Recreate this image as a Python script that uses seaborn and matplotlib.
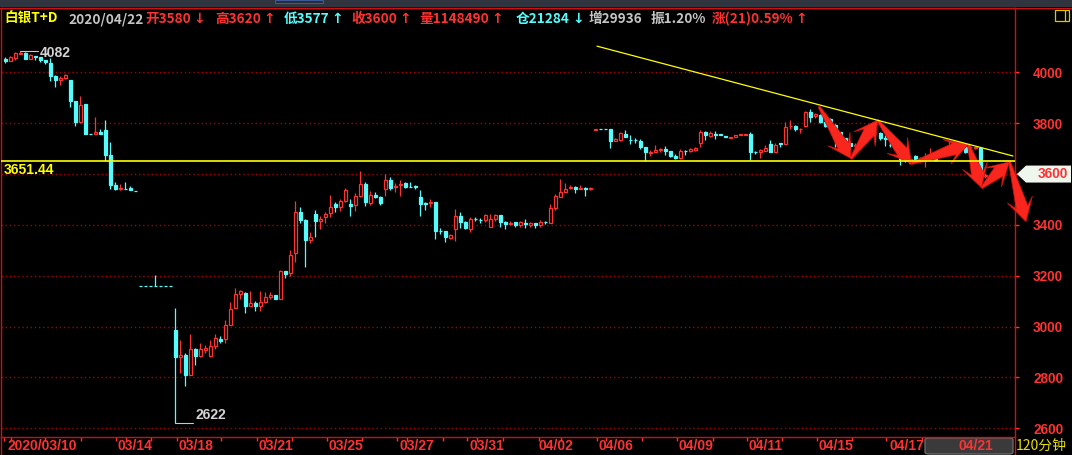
import numpy as np
import matplotlib
matplotlib.use("Agg")
import matplotlib.pyplot as plt
import seaborn as sns
from matplotlib.patches import Polygon, Rectangle, FancyBboxPatch
from matplotlib.lines import Line2D
from matplotlib.transforms import IdentityTransform, blended_transform_factory

# ==========================================
# ДАННЫЕ (свечи 120 минут, серебро T+D)
# ==========================================
opens = [
    4053, 4046, 4056, 4074, 4077, 4053, 4064, 4061, 4048, 4038,
    3985, 3971, 3976, 3970, 3887, 3806, 3875, 3758, 3758, 3766,
    3773, 3675, 3557, 3540, 3542, 3545, 3533, 3159, 3159, 3159,
    3159, 3159, 3159, 3159, 2987, 2882, 2888, 2810, 2912, 2884,
    2908, 2884, 2925, 2951, 2950, 3008, 3072, 3129, 3131, 3082,
    3093, 3082, 3097, 3115, 3124, 3110, 3219, 3209, 3288, 3449,
    3419, 3341, 3443, 3417, 3430, 3445, 3481, 3472, 3494, 3481,
    3478, 3514, 3561, 3485, 3518, 3511, 3541, 3577, 3548, 3558,
    3563, 3550, 3553, 3508, 3487, 3485, 3489, 3376, 3376, 3350,
    3384, 3435, 3411, 3384, 3424, 3421, 3419, 3393, 3423, 3439,
    3413, 3402, 3411, 3398, 3407, 3398, 3409, 3400, 3413, 3409,
    3465, 3511, 3531, 3545, 3550, 3542, 3545, 3542, 3775, 3777,
    3777, 3776, 3731, 3734, 3759, 3735, 3734, 3731, 3706, 3681,
    3688, 3696, 3697, 3690, 3671, 3664, 3691, 3692, 3694, 3721,
    3765, 3749, 3756, 3756, 3751, 3743, 3747, 3755, 3755, 3757,
    3687, 3685, 3692, 3718, 3688, 3721, 3717, 3788, 3790, 3776,
    3788, 3845, 3828, 3832, 3806, 3815, 3793, 3764, 3740, 3723,
    3712, 3714, 3727, 3753, 3797, 3760, 3742, 3716, 3712, 3675,
    3662, 3642, 3671, 3655, 3660, 3672, 3675, 3671, 3677, 3714,
    3714, 3715, 3708, 3706, 3703, 3703, 3592, 3580, 3588, 3598,
]
highs = [
    4061, 4064, 4079, 4082, 4080, 4074, 4065, 4061, 4048, 4056,
    3988, 3985, 3992, 3970, 3887, 3907, 3875, 3758, 3823, 3776,
    3812, 3726, 3567, 3559, 3567, 3553, 3533, 3159, 3159, 3159,
    3203, 3159, 3159, 3159, 3073, 2947, 2895, 2973, 2915, 2934,
    2926, 2947, 2971, 2963, 3026, 3097, 3150, 3144, 3136, 3140,
    3101, 3140, 3136, 3136, 3124, 3223, 3219, 3301, 3494, 3469,
    3422, 3371, 3459, 3435, 3451, 3518, 3489, 3501, 3544, 3500,
    3524, 3612, 3570, 3533, 3528, 3514, 3599, 3587, 3563, 3577,
    3567, 3567, 3557, 3537, 3491, 3500, 3491, 3386, 3376, 3364,
    3462, 3451, 3417, 3432, 3432, 3427, 3443, 3443, 3443, 3439,
    3417, 3415, 3411, 3415, 3423, 3411, 3409, 3419, 3417, 3482,
    3523, 3580, 3566, 3557, 3553, 3557, 3550, 3550, 3776, 3777,
    3777, 3776, 3743, 3765, 3773, 3754, 3743, 3738, 3706, 3694,
    3714, 3703, 3710, 3690, 3677, 3697, 3694, 3702, 3706, 3773,
    3769, 3769, 3769, 3756, 3751, 3744, 3755, 3756, 3756, 3764,
    3692, 3698, 3714, 3734, 3723, 3724, 3805, 3813, 3794, 3782,
    3848, 3856, 3841, 3838, 3810, 3819, 3795, 3766, 3743, 3727,
    3721, 3734, 3745, 3778, 3806, 3766, 3753, 3727, 3716, 3688,
    3667, 3660, 3673, 3668, 3681, 3701, 3677, 3684, 3690, 3730,
    3727, 3718, 3712, 3714, 3712, 3705, 3605, 3595, 3608, 3620,
]
lows = [
    4038, 4043, 4048, 4072, 4052, 4051, 4048, 4040, 4032, 3967,
    3941, 3950, 3972, 3862, 3790, 3799, 3758, 3757, 3758, 3758,
    3652, 3540, 3537, 3537, 3540, 3536, 3532, 3158, 3158, 3158,
    3158, 3158, 3158, 3158, 2622, 2816, 2768, 2810, 2849, 2882,
    2897, 2882, 2914, 2937, 2937, 3008, 3072, 3107, 3055, 3082,
    3063, 3063, 3094, 3108, 3107, 3110, 3192, 3200, 3255, 3406,
    3236, 3327, 3354, 3382, 3409, 3432, 3452, 3455, 3491, 3436,
    3455, 3511, 3476, 3478, 3504, 3478, 3515, 3537, 3531, 3515,
    3544, 3548, 3541, 3436, 3459, 3472, 3345, 3364, 3334, 3345,
    3338, 3389, 3384, 3373, 3417, 3409, 3413, 3393, 3417, 3393,
    3384, 3398, 3393, 3393, 3389, 3393, 3389, 3390, 3404, 3409,
    3459, 3511, 3528, 3540, 3527, 3540, 3515, 3537, 3775, 3776,
    3776, 3704, 3731, 3730, 3747, 3719, 3722, 3698, 3650, 3672,
    3687, 3687, 3676, 3668, 3658, 3660, 3676, 3688, 3692, 3708,
    3734, 3747, 3739, 3752, 3747, 3743, 3747, 3755, 3755, 3655,
    3679, 3664, 3692, 3688, 3688, 3708, 3717, 3777, 3770, 3763,
    3787, 3806, 3819, 3800, 3785, 3793, 3707, 3730, 3701, 3694,
    3701, 3710, 3722, 3748, 3727, 3734, 3711, 3707, 3694, 3635,
    3648, 3640, 3655, 3652, 3629, 3655, 3652, 3668, 3675, 3710,
    3712, 3700, 3684, 3700, 3700, 3590, 3586, 3577, 3585, 3590,
]
closes = [
    4043, 4059, 4077, 4078, 4053, 4068, 4061, 4048, 4040, 3985,
    3970, 3979, 3988, 3888, 3806, 3870, 3758, 3757, 3764, 3758,
    3675, 3557, 3540, 3546, 3541, 3536, 3532, 3158, 3158, 3158,
    3158, 3158, 3158, 3158, 2882, 2888, 2810, 2911, 2884, 2912,
    2917, 2924, 2955, 2943, 3005, 3068, 3127, 3140, 3082, 3093,
    3082, 3095, 3116, 3124, 3107, 3219, 3208, 3281, 3449, 3419,
    3341, 3351, 3417, 3424, 3443, 3472, 3472, 3494, 3537, 3476,
    3514, 3561, 3491, 3518, 3508, 3485, 3577, 3544, 3553, 3561,
    3550, 3548, 3548, 3482, 3483, 3491, 3376, 3375, 3354, 3360,
    3435, 3411, 3389, 3423, 3422, 3418, 3439, 3423, 3439, 3413,
    3402, 3409, 3401, 3411, 3405, 3409, 3401, 3413, 3410, 3465,
    3514, 3528, 3541, 3548, 3541, 3545, 3542, 3545, 3776, 3776,
    3776, 3731, 3738, 3760, 3747, 3733, 3732, 3708, 3687, 3688,
    3694, 3698, 3692, 3672, 3662, 3691, 3689, 3699, 3703, 3765,
    3755, 3760, 3755, 3752, 3747, 3744, 3755, 3756, 3756, 3688,
    3686, 3694, 3704, 3688, 3714, 3720, 3784, 3790, 3776, 3778,
    3845, 3823, 3835, 3806, 3790, 3799, 3764, 3740, 3721, 3710,
    3716, 3727, 3740, 3769, 3795, 3740, 3738, 3714, 3700, 3659,
    3655, 3658, 3659, 3664, 3662, 3675, 3655, 3681, 3688, 3727,
    3723, 3704, 3688, 3708, 3705, 3600, 3598, 3588, 3602, 3600,
]

price_ticks = [2600, 2800, 3000, 3200, 3400, 3600, 3800, 4000]
last_price = 3600
ref_level = 3651.44

date_labels = ["2020/03/10", "03/14", "03/18", "03/21", "03/25", "03/27", "03/31",
               "04/02", "04/06", "04/09", "04/11", "04/15", "04/17", "04/21"]
date_label_pos = [0.5, 22.5, 34.6, 50.7, 64.6, 78.8, 92.8,
                  106.7, 118.6, 134.7, 148.7, 162.7, 176.8, 190.7]
date_tick_pos = [-0.3, 1.1, 8, 15.1, 22.2, 24.1, 29.2, 34.3, 36.3, 43.2, 50.3, 52.2,
                 57.4, 64.3, 71.4, 78.4, 80.4, 87.5, 92.3, 94.4, 99.5, 106.8, 111.2,
                 118.3, 120.2, 127.3, 134.4, 141.6, 148.3, 150.3, 155.4, 162.4,
                 169.3, 176.2, 183.4, 190.4, 197.6]

high_mark = (3, 4082)
low_mark = (34, 2622)

# наклонная линия тренда (индекс свечи, цена)
trend_x = [118.4, 201.6]
trend_y = [4103, 3671]

# ломаная из красных стрелок (индекс свечи, цена)
arrow_x = [162.8, 169.2, 174.5, 181.3, 192.7, 195.3, 200.9, 204.2]
arrow_y = [3865, 3661, 3812, 3642, 3717, 3546, 3648, 3413]

# шапка: (x в пикселях, текст, цвет, стрелка)
RED = "#ff3232"
CYAN = "#54fcfc"
YELLOW = "#ffff00"
GRAY = "#c4c4c4"
header_items = [
    (4, "白银T+D", YELLOW, ""), (68, "2020/04/22", GRAY, ""),
    (145, "开3580", RED, "↓"), (215, "高3620", RED, "↑"), (284, "低3577", CYAN, "↑"),
    (351, "收3600", RED, "↑"), (419, "量1148490", RED, "↑"), (516, "仓21284", CYAN, "↓"),
    (589, "增29936", GRAY, ""), (651, "振1.20%", GRAY, ""), (712, "涨(21)0.59%", RED, "↑"),
]

# ==========================================
# ВИЗУАЛИЗАЦИЯ
# ==========================================
W, H, DPI = 1072, 455, 100
GRID = "#a80000"

sns.set_theme(style="dark", rc={"axes.facecolor": "black", "figure.facecolor": "black",
                                "savefig.facecolor": "black"})
plt.rcParams["font.family"] = ["Liberation Sans", "DejaVu Sans"]
CJK = ["Noto Sans CJK SC", "DejaVu Sans"]

fig = plt.figure(figsize=(W / DPI, H / DPI), dpi=DPI)
ax = fig.add_axes([1 / W, (H - 437) / H, 1014 / W, (437 - 7.5) / H])
ax.set_facecolor("black")


def fx(x):
    return x / W


def fy(y):
    return 1 - y / H


o = np.array(opens, float)
h = np.array(highs, float)
l = np.array(lows, float)
c = np.array(closes, float)
idx = np.arange(len(o))
up = c > o
dn = ~up

# фитили и тела свечей
ax.vlines(idx[up], l[up], h[up], color=RED, lw=0.9, zorder=2)
ax.vlines(idx[dn], l[dn], h[dn], color=CYAN, lw=0.9, zorder=2)
ax.bar(idx[up], c[up] - o[up], bottom=o[up], width=0.6, facecolor="black",
       edgecolor=RED, linewidth=0.9, zorder=3)
ax.bar(idx[dn], o[dn] - c[dn], bottom=c[dn], width=0.6, facecolor=CYAN,
       edgecolor=CYAN, linewidth=0.9, zorder=3)

# уровни
ax.axhline(ref_level, color=YELLOW, lw=1.2, zorder=6)
sns.lineplot(x=trend_x, y=trend_y, ax=ax, color=YELLOW, lw=0.9, zorder=6)

# отметки максимума и минимума
ax.plot([high_mark[0], high_mark[0] + 3.6], [high_mark[1]] * 2, color="#c8c8c8", lw=0.8)
ax.text(high_mark[0] + 4.0, high_mark[1] - 6, str(high_mark[1]), color="#d4d4d4",
        fontsize=10, fontweight="bold", va="center", ha="left")
ax.plot([low_mark[0], low_mark[0] + 3.6], [low_mark[1]] * 2, color="#c8c8c8", lw=0.8)
ax.text(low_mark[0] + 4.0, low_mark[1] + 2, str(low_mark[1]), color="#d4d4d4",
        fontsize=10, fontweight="bold", va="bottom", ha="left")

ax.set_xlim(-0.8, 202)
ax.set_ylim(2566, 4255)

# сетка и оси
ax.set_yticks(price_ticks)
ax.set_yticklabels([str(p) if p != last_price else "" for p in price_ticks])
ax.yaxis.tick_right()
ax.tick_params(axis="y", right=True, left=False, labelright=True, labelleft=False,
               colors=RED, length=3, width=1, pad=10, labelsize=9.8)
for lbl in ax.get_yticklabels():
    lbl.set_fontweight("bold")
ax.yaxis.grid(True, color=GRID, ls=(0, (1, 2)), lw=1)
ax.xaxis.grid(False)

ax.set_xticks(date_tick_pos)
ax.set_xticklabels([])
ax.tick_params(axis="x", bottom=True, colors=RED, length=3, width=1, direction="out")
for sp in ax.spines.values():
    sp.set_color("#d01010")
    sp.set_linewidth(1)

# серая плашка под последней датой
ax.add_patch(FancyBboxPatch((fx(925), fy(454)), fx(88), 16 / H,
                            boxstyle="round,pad=0,rounding_size=0.004",
                            transform=fig.transFigure, facecolor="#3a3a3a",
                            edgecolor="#686868", lw=1, clip_on=False, zorder=1))
xlab_tr = blended_transform_factory(ax.transData, ax.transAxes)
for pos, lab in zip(date_label_pos, date_labels):
    ax.text(pos, (437 - 446) / (437 - 7.5), lab, transform=xlab_tr, ha="left", va="center",
            color=RED, fontsize=10, fontweight="bold", clip_on=False, zorder=5)

# красные стрелки поверх свечей
pts = ax.transData.transform(np.column_stack([arrow_x, arrow_y]))
for p0, p1 in zip(pts[:-1], pts[1:]):
    d = p1 - p0
    u = d / np.hypot(*d)
    nrm = np.array([-u[1], u[0]])
    neck = p1 - u * 15
    barb = p1 - u * 23
    poly = [p0 + nrm * 1.0, neck + nrm * 6, barb + nrm * 13, p1,
            barb - nrm * 13, neck - nrm * 6, p0 - nrm * 1.0]
    ax.add_patch(Polygon(poly, closed=True, transform=IdentityTransform(),
                         facecolor="#f8261c", edgecolor="#d01010", lw=0.5,
                         clip_on=False, zorder=4))

# подпись уровня 3651.44
fig.text(fx(4), fy(170), f"{ref_level:.2f}", color=YELLOW, fontsize=10,
         fontweight="bold", ha="left", va="center")

# белый ярлык текущей цены
y0 = ax.transData.transform((0, last_price))[1]
tag = [(1017, y0), (1026, y0 + 8.5), (1071, y0 + 8.5), (1071, y0 - 8.5), (1026, y0 - 8.5)]
fig.add_artist(Polygon(tag, closed=True, transform=IdentityTransform(),
                       facecolor="#eef6ee", edgecolor="none", zorder=3))
fig.text(1052.5 / W, y0 / H, str(last_price), color=RED, fontsize=9.8,
         fontweight="bold", ha="center", va="center", zorder=4)

# рамки за пределами осей
fig.add_artist(Rectangle((0, fy(7)), 1, 7 / H, transform=fig.transFigure,
                         facecolor="#30343e", edgecolor="none"))
fig.add_artist(Rectangle((fx(275), fy(2.5)), fx(48), 2.5 / H, transform=fig.transFigure,
                         facecolor="#262a34", edgecolor="#3d5a96", lw=0.8))
fig.add_artist(Line2D([0, 1], [fy(7.5)] * 2, color="#d01010", lw=1))
fig.add_artist(Line2D([fx(1015)] * 2, [0, fy(437)], color="#d01010", lw=1))
fig.add_artist(Line2D([fx(1)] * 2, [0, fy(437)], color="#d01010", lw=1))
fig.add_artist(Rectangle((fx(1054.5), fy(21)), fx(14.5), 11 / H, transform=fig.transFigure,
                         facecolor="none", edgecolor="#d8c800", lw=0.9))
fig.add_artist(Line2D([fx(1065)] * 2, [fy(21), fy(10)], color="#d8c800", lw=0.9))

fig.text(fx(1016), fy(446), "120分钟", color="#e8e000", fontsize=10, family=CJK,
         ha="left", va="center")

# шапка: стрелка ставится сразу за текстом
for x, txt, col, arr in header_items:
    t = fig.text(fx(x), fy(19), txt, color=col, fontsize=9.8, family=CJK,
                 fontweight="bold", ha="left", va="center")
    if arr:
        ax.annotate(arr, xy=(1, 0.5), xycoords=t, xytext=(1.5, 0),
                    textcoords="offset points", color=col, fontsize=10,
                    family=["DejaVu Sans"], fontweight="bold", ha="left", va="center")

fig.savefig("out.png", dpi=DPI, facecolor="black")
